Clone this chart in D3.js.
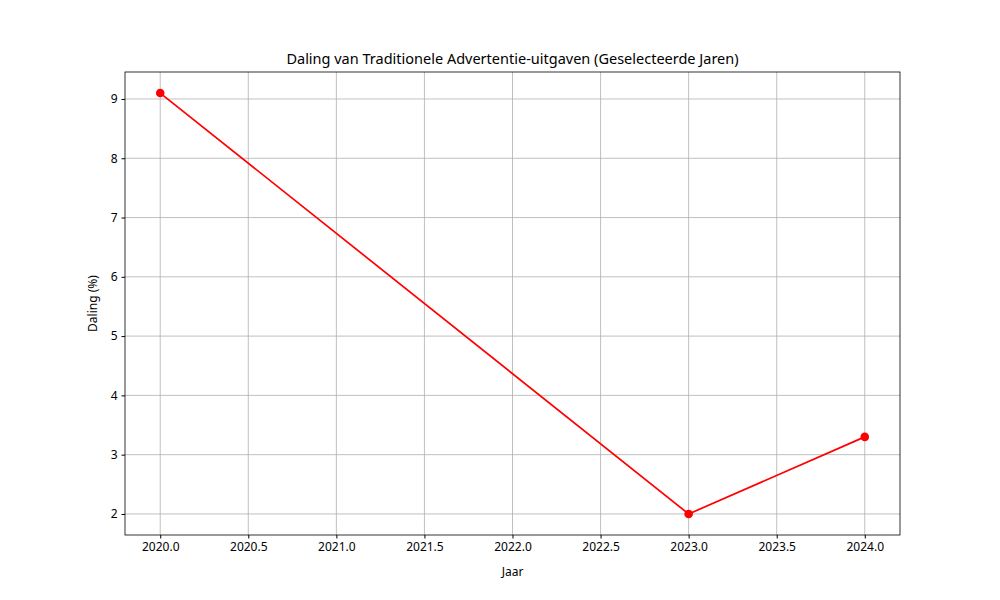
<!DOCTYPE html>
<html><head><meta charset="utf-8">
<script src="https://cdn.jsdelivr.net/npm/d3@7"></script>
<style>body{margin:0;background:#fff}text{font-family:"Noto Sans",sans-serif}</style>
</head><body><svg id="c" width="1000" height="600"></svg>
<script>
const years = [2020, 2023, 2024];
const values = [9.1, 2.0, 3.3];
const xTicks = [2020.0, 2020.5, 2021.0, 2021.5, 2022.0, 2022.5, 2023.0, 2023.5, 2024.0];
const yTicks = [2, 3, 4, 5, 6, 7, 8, 9];
const title = "Daling van Traditionele Advertentie-uitgaven (Geselecteerde Jaren)";

const L=125,R=900,T=72,B=535;
const svg=d3.select("#c");
const xr=2024-2020, xm=xr*0.05;
const x=d3.scaleLinear().domain([2020-xm,2024+xm]).range([L,R]);
const yr=9.1-2.0, ym=yr*0.05;
const y=d3.scaleLinear().domain([2.0-ym,9.1+ym]).range([B,T]);

const g=svg.append("g");
g.selectAll(".gx").data(xTicks).enter().append("line").attr("x1",d=>x(d)).attr("x2",d=>x(d)).attr("y1",T).attr("y2",B).attr("stroke","#b0b0b0").attr("stroke-width",0.8);
g.selectAll(".gy").data(yTicks).enter().append("line").attr("y1",d=>y(d)).attr("y2",d=>y(d)).attr("x1",L).attr("x2",R).attr("stroke","#b0b0b0").attr("stroke-width",0.8);

const xa=svg.append("g").attr("transform",`translate(0,${B})`).call(d3.axisBottom(x).tickValues(xTicks).tickFormat(d3.format(".1f")).tickSize(3.5).tickPadding(4));
const ya=svg.append("g").attr("transform",`translate(${L},0)`).call(d3.axisLeft(y).tickValues(yTicks).tickFormat(d3.format("d")).tickSize(3.5).tickPadding(4));
[xa,ya].forEach(a=>{a.select(".domain").remove();a.selectAll("text").attr("font-size",12).attr("fill","#000").style("font-family","Noto Sans");a.selectAll("line").attr("stroke","#000");});

svg.append("rect").attr("x",L).attr("y",T).attr("width",R-L).attr("height",B-T).attr("fill","none").attr("stroke","#000").attr("stroke-width",0.8);

const pts=years.map((d,i)=>[d,values[i]]);
svg.append("path").datum(pts).attr("d",d3.line().x(d=>x(d[0])).y(d=>y(d[1]))).attr("fill","none").attr("stroke","red").attr("stroke-width",1.7);
svg.selectAll(".pt").data(pts).enter().append("circle").attr("cx",d=>x(d[0])).attr("cy",d=>y(d[1])).attr("r",4.3).attr("fill","red");

svg.append("text").attr("x",(L+R)/2).attr("y",64).attr("text-anchor","middle").attr("font-size",14.5).text(title);
svg.append("text").attr("x",(L+R)/2).attr("y",576).attr("text-anchor","middle").attr("font-size",12).text("Jaar");
svg.append("text").attr("transform",`translate(97,${(T+B)/2}) rotate(-90)`).attr("text-anchor","middle").attr("font-size",12).text("Daling (%)");
</script></body></html>
